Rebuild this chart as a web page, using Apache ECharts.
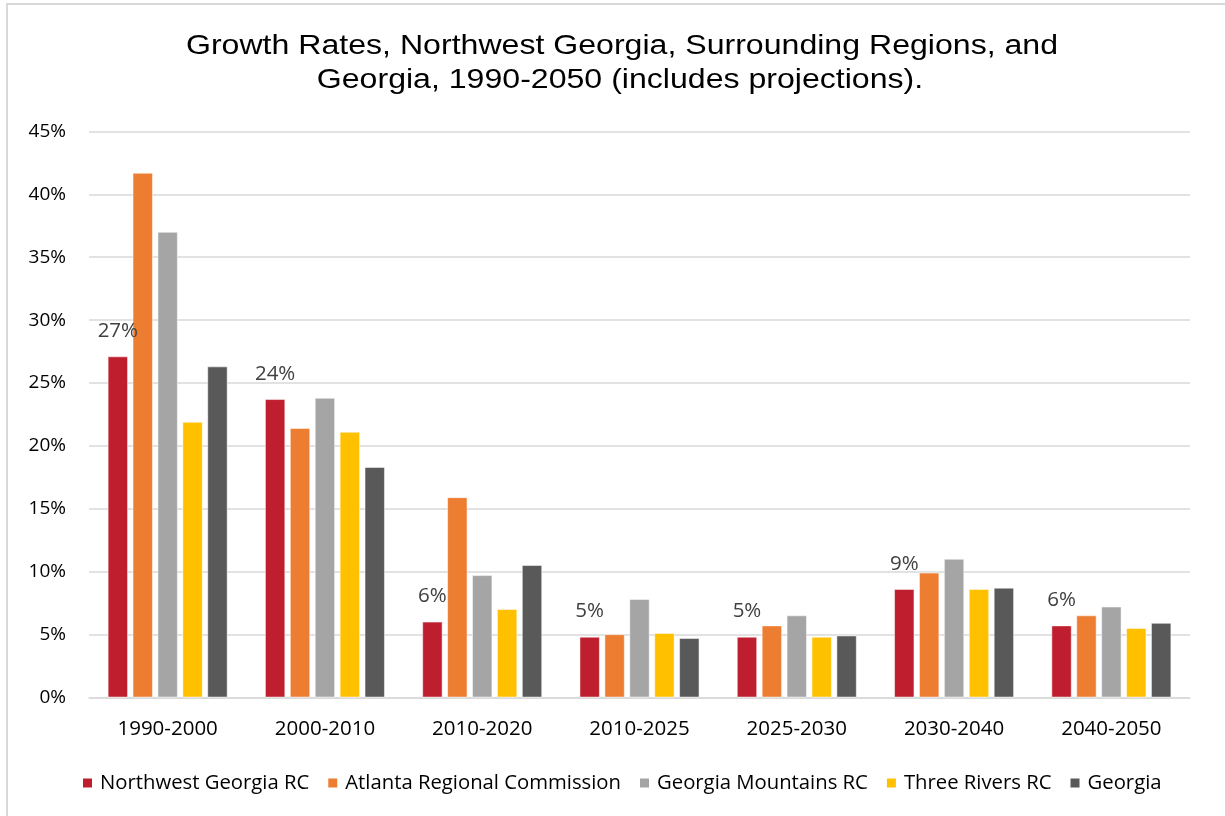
<!DOCTYPE html>
<html>
<head>
<meta charset="utf-8">
<script src="https://cdn.jsdelivr.net/npm/echarts@6/dist/echarts.min.js"></script>
<style>html,body{margin:0;padding:0;background:#fff}#c{width:1225px;height:816px}</style>
</head>
<body>
<div id="c"></div>
<script>
const categories = ['1990-2000','2000-2010','2010-2020','2010-2025','2025-2030','2030-2040','2040-2050'];
const seriesNames = ['Northwest Georgia RC','Atlanta Regional Commission','Georgia Mountains RC','Three Rivers RC','Georgia'];
const northwestGA = [27.1, 23.7, 6.0, 4.8, 4.8, 8.6, 5.7];
const atlantaRC = [41.7, 21.4, 15.9, 5.0, 5.7, 9.9, 6.5];
const gaMountains = [37.0, 23.8, 9.7, 7.8, 6.5, 11.0, 7.2];
const threeRivers = [21.9, 21.1, 7.0, 5.1, 4.8, 8.6, 5.5];
const georgia = [26.3, 18.3, 10.5, 4.7, 4.9, 8.7, 5.9];
const titleLines = ['Growth Rates, Northwest Georgia, Surrounding Regions, and', 'Georgia, 1990-2050 (includes projections).'];
const colors = ['#BE1E2D','#ED7D31','#A5A5A5','#FFC000','#595959'];

const chart = echarts.init(document.getElementById('c'));
const dataSets = [northwestGA, atlantaRC, gaMountains, threeRivers, georgia];
const font = '"Open Sans", sans-serif';
const series = dataSets.map((d, i) => ({
  name: seriesNames[i],
  type: 'bar',
  data: d,
  barGap: '25%',
  barCategoryGap: '24%',
  itemStyle: { color: colors[i], borderColor: '#fff', borderWidth: 0.5 },
  label: i === 0 ? {
    show: true, position: 'top', distance: 15,
    formatter: p => Math.round(p.value) + '%',
    fontFamily: font, fontSize: 20.5, color: '#404040'
  } : { show: false }
}));

chart.setOption({
  animation: false,
  legend: {
    top: 768, left: 76,
    itemWidth: 11, itemHeight: 11, itemGap: 17,
    icon: 'rect',
    textStyle: { fontFamily: font, fontSize: 20.3, color: '#000', padding: [0,0,0,2] },
    data: seriesNames
  },
  grid: { left: 89, right: 35, top: 131.5, bottom: 118.7 },
  xAxis: {
    type: 'category', data: categories,
    axisLine: { lineStyle: { color: '#D9D9D9', width: 1.5 } },
    axisTick: { show: false },
    axisLabel: { fontFamily: font, fontSize: 20.5, color: '#000', margin: 21 }
  },
  yAxis: {
    type: 'value', min: 0, max: 45, interval: 5,
    axisLine: { show: false }, axisTick: { show: false },
    splitLine: { lineStyle: { color: '#D9D9D9', width: 1.5 } },
    axisLabel: { fontFamily: font, fontSize: 19, color: '#000', margin: 23, formatter: v => v + '%' }
  },
  graphic: [
    { type: 'rect', shape: { x: 7, y: 4, width: 1230, height: 830 }, style: { fill: 'none', stroke: '#D9D9D9', lineWidth: 2 } },
    { type: 'text', x: 622, y: 46, scaleX: 1.234, scaleY: 1.05, style: { text: titleLines[0], fill: '#000', font: '26px "Liberation Sans", Arial, sans-serif', textAlign: 'center', textVerticalAlign: 'middle' } },
    { type: 'text', x: 620, y: 80.5, scaleX: 1.234, scaleY: 1.05, style: { text: titleLines[1], fill: '#000', font: '26px "Liberation Sans", Arial, sans-serif', textAlign: 'center', textVerticalAlign: 'middle' } }
  ],
  series
});
</script>
</body>
</html>
